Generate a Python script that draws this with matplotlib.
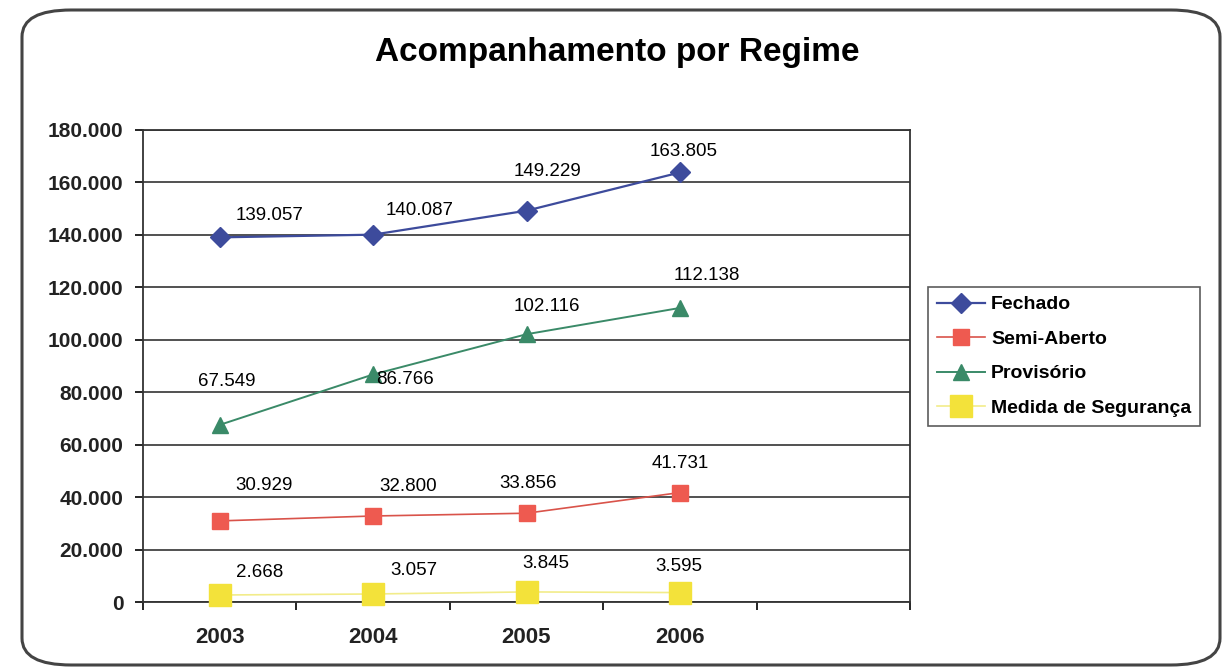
import matplotlib.pyplot as plt
from matplotlib.patches import FancyBboxPatch
from matplotlib.ticker import FuncFormatter, FixedLocator

plt.rcParams['font.family'] = ['Liberation Sans', 'DejaVu Sans']

years = ['2003', '2004', '2005', '2006']
fechado = [139057, 140087, 149229, 163805]
semi_aberto = [30929, 32800, 33856, 41731]
provisorio = [67549, 86766, 102116, 112138]
medida = [2668, 3057, 3845, 3595]

# label offsets in pixels (dx, dy) per point
series = [
    ("Fechado", fechado, '#3d4b9c', '#3d4b9c', 'D', 10, 1.6,
     [(50, 22), (47, 24), (21, 39), (4, 21)]),
    ("Semi-Aberto", semi_aberto, '#d9534a', '#ee5a50', 's', 12, 1.2,
     [(44, 35), (35, 29), (2, 30), (0, 29)]),
    ("Provisório", provisorio, '#3a8a68', '#3a8a68', '^', 12, 1.4,
     [(7, 43), (32, -5), (20, 28), (27, 32)]),
    ("Medida de Segurança", medida, '#f2ec8a', '#f3e23a', 's', 16, 1.2,
     [(40, 23), (41, 23), (19, 28), (-1, 26)]),
]

fig = plt.figure(figsize=(12.3, 6.7), dpi=100)

border = FancyBboxPatch((22 / 1230, 1 - 665 / 670), 1198 / 1230, 655 / 670,
                        boxstyle="round,pad=0,rounding_size=0.04",
                        transform=fig.transFigure, facecolor='none',
                        edgecolor='#444444', linewidth=2.2, zorder=-1)
fig.patches.append(border)

ax = fig.add_axes([143 / 1230, 1 - 602 / 670, 767 / 1230, 472 / 670])
ax.set_facecolor('white')

x = list(range(len(years)))
for name, vals, lc, mc, mk, ms, lw, offs in series:
    ax.plot(x, vals, color=lc, linewidth=lw, marker=mk, markersize=ms,
            markerfacecolor=mc, markeredgecolor=mc, label=name, zorder=3,
            clip_on=False)
    for xi, v, (dx, dy) in zip(x, vals, offs):
        ax.annotate(f"{v:,}".replace(',', '.'), (xi, v), xytext=(dx, dy),
                    textcoords='offset pixels', ha='center', va='center',
                    fontsize=13.5, color='black', zorder=4)

ax.set_xlim(-0.5, 4.5)
ax.set_ylim(0, 180000)
ax.set_yticks(range(0, 180001, 20000))
ax.yaxis.set_major_formatter(FuncFormatter(lambda v, p: f"{int(v):,}".replace(',', '.')))
ax.set_xticks(x)
ax.set_xticklabels(years)
ax.xaxis.set_minor_locator(FixedLocator([i - 0.5 for i in range(6)]))
ax.tick_params(axis='x', which='major', length=0, pad=18, labelsize=16)
ax.tick_params(axis='x', which='minor', length=6, width=1.2, direction='out')
ax.tick_params(axis='y', length=6, width=1.2, direction='out', labelsize=15, pad=8)
for lab in ax.get_xticklabels() + ax.get_yticklabels():
    lab.set_fontweight('bold')
    lab.set_color('#222222')

ax.grid(axis='y', color='#333333', linewidth=1.2)
ax.set_axisbelow(True)
for s in ax.spines.values():
    s.set_color('#333333')
    s.set_linewidth(1.3)

fig.text(0.502, 1 - 52 / 670, "Acompanhamento por Regime", ha='center', va='center',
         fontsize=24, fontweight='bold', color='black')

leg = fig.legend(loc='upper left', bbox_to_anchor=(928 / 1230, 1 - 287 / 670),
                 borderaxespad=0,
                 prop={'weight': 'bold', 'size': 14}, frameon=True, fancybox=False,
                 edgecolor='#333333', handlelength=2.5, labelspacing=0.87,
                 borderpad=0.45, handletextpad=0.3)
leg.get_frame().set_linewidth(1.2)

fig.savefig('out.png', dpi=100)
